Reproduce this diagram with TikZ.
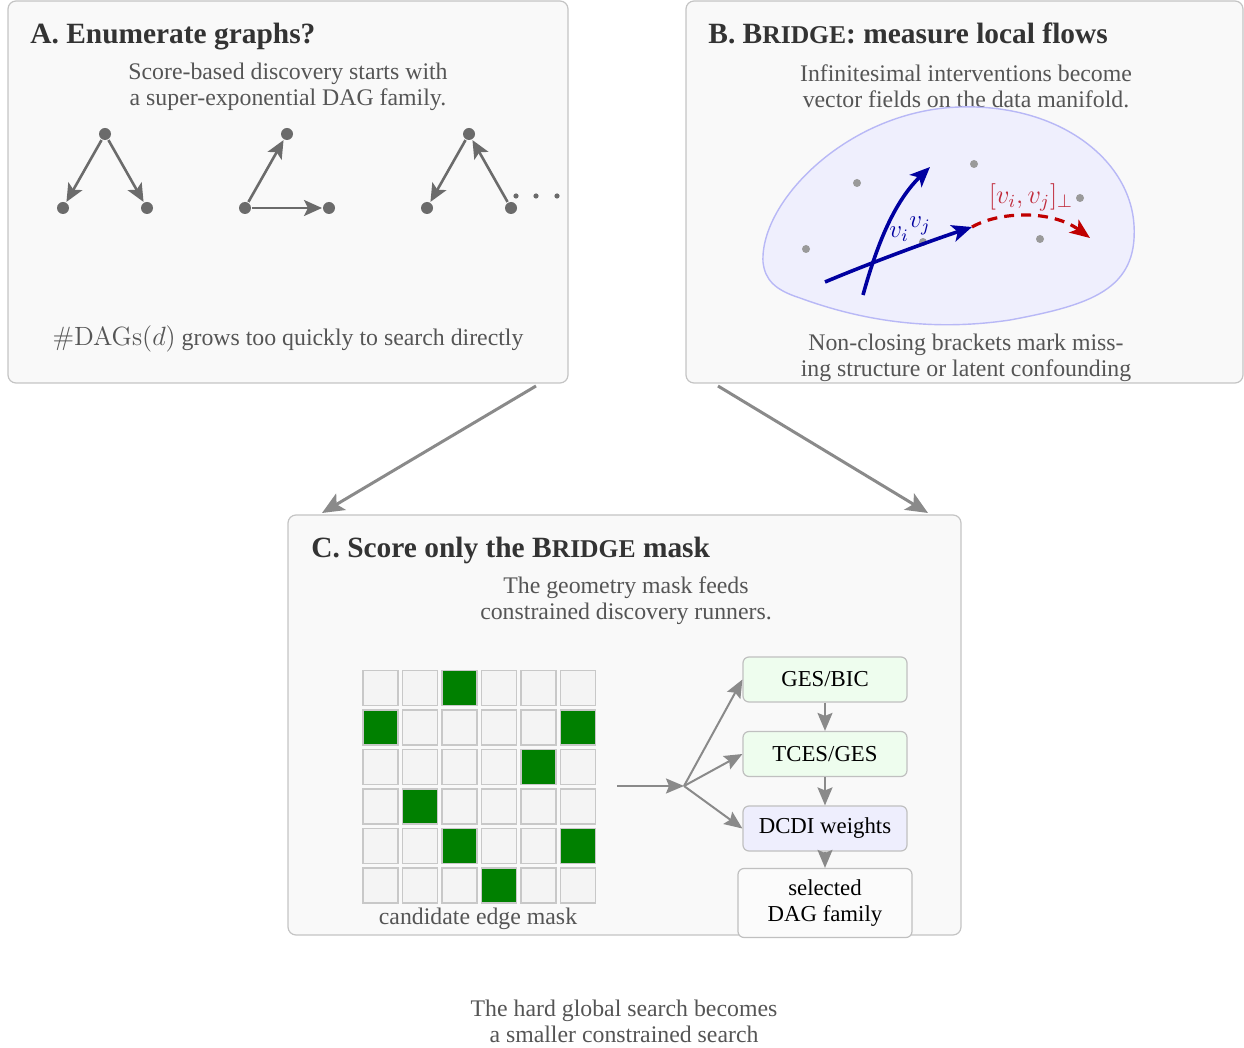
\RequirePackage{fix-cm}
\documentclass[tikz,border=0pt]{standalone}
\usepackage[no-math]{fontspec}
\setmainfont{Liberation Serif}
\usetikzlibrary{arrows.meta}
\definecolor{panelfill}{HTML}{F9F9F9}
\definecolor{panelline}{HTML}{C4C4C4}
\definecolor{headc}{HTML}{333333}
\definecolor{bodyc}{HTML}{555555}
\definecolor{gnode}{HTML}{6B6B6B}
\definecolor{blobfill}{HTML}{EFEFFD}
\definecolor{blobline}{HTML}{B8B8F6}
\definecolor{vblue}{HTML}{0000A0}
\definecolor{rred}{HTML}{C00000}
\definecolor{rlabel}{HTML}{C02A3A}
\definecolor{pdotc}{HTML}{9A9A9A}
\definecolor{cgray}{HTML}{8A8A8A}
\definecolor{cellfill}{HTML}{F4F4F4}
\definecolor{celldraw}{HTML}{C8C8C8}
\definecolor{maskgreen}{HTML}{008000}
\definecolor{rline}{HTML}{C0C0C0}
\definecolor{gesfill}{HTML}{EEFDEE}
\definecolor{dcdifill}{HTML}{EEEEFD}
\definecolor{selfill}{HTML}{FBFBFB}
\newcommand\bridgesc{B{\fontsize{12.8}{14}\selectfont RIDGE}}
\begin{document}
\begin{tikzpicture}[x=0.5pt,y=-0.5pt,
  panel/.style={draw=panelline, fill=panelfill, line width=0.6pt, rounded corners=4pt},
  head/.style={text=headc, font=\fontsize{14.7}{17}\selectfont\bfseries, inner sep=0pt},
  body/.style={text=bodyc, font=\fontsize{11.9}{13.1}\selectfont, align=center, inner sep=0pt},
  gdot/.style={circle, fill=gnode, minimum size=6pt, inner sep=0pt},
  sdot/.style={circle, fill=gnode, minimum size=2.6pt, inner sep=0pt},
  garrow/.style={draw=gnode, line width=1.3pt, -{Stealth[length=9pt,width=8pt,inset=2pt]}, shorten >=0.3pt, shorten <=0.3pt},
  pdot/.style={circle, fill=pdotc, minimum size=4pt, inner sep=0pt},
  varrow/.style={draw=vblue, line width=1.8pt, -{Stealth[length=10pt,width=8.5pt,inset=2.5pt]}},
  rarrow/.style={draw=rred, line width=1.6pt, dash pattern=on 5pt off 3.5pt, -{Stealth[length=10pt,width=8pt,inset=2.5pt]}},
  bigarrow/.style={draw=cgray, line width=1.5pt, -{Stealth[length=11pt,width=9.5pt,inset=2.5pt]}},
  carrow/.style={draw=cgray, line width=1pt, -{Stealth[length=9pt,width=7.5pt,inset=1.5pt]}},
  cellbox/.style={draw=celldraw, fill=cellfill, line width=0.8pt, minimum size=17.5pt, inner sep=0pt},
  greencell/.style={fill=maskgreen, draw=celldraw},
  runner/.style={draw=rline, line width=0.6pt, rounded corners=3pt, minimum width=82pt, minimum height=22.5pt, font=\fontsize{11.4}{13}\selectfont, align=center, inner sep=0pt}
]
\useasboundingbox (0,0) rectangle (1244,1048);

% ---------- panels ----------
\draw[panel] (8,1) rectangle (568,383);
\draw[panel] (686,1) rectangle (1243,383);
\draw[panel] (288,515) rectangle (961,935);

% ---------- panel A ----------
\node[head, anchor=base west] (hA) at (30,44) {A. Enumerate graphs?};
\node[body] (sA) at (288,86.5) {Score-based discovery starts with\\a super-exponential DAG family.};

\node[gdot] (g1t) at (105,134) {};
\node[gdot] (g1l) at (63,208) {};
\node[gdot] (g1r) at (147,208) {};
\draw[garrow] (g1t) -- (g1l);
\draw[garrow] (g1t) -- (g1r);

\node[gdot] (g2t) at (287,134) {};
\node[gdot] (g2l) at (245,208) {};
\node[gdot] (g2r) at (329,208) {};
\draw[garrow] (g2l) -- (g2t);
\draw[garrow] (g2l) -- (g2r);

\node[gdot] (g3t) at (469,134) {};
\node[gdot] (g3l) at (427,208) {};
\node[gdot] (g3r) at (511,208) {};
\draw[garrow] (g3t) -- (g3l);
\draw[garrow] (g3r) -- (g3t);

\node[sdot] (e1) at (516,196) {};
\node[sdot] (e2) at (536,196) {};
\node[sdot] (e3) at (557,196) {};

\node[body] (fA) at (288,339) {{\fontsize{13.2}{14}\selectfont$\#\mathrm{DAGs}(d)$} grows too quickly to search directly};

% ---------- panel B ----------
\node[head, anchor=base west] (hB) at (708,44) {B. \bridgesc: measure local flows};
\node[body] (sB) at (966,86.5) {Infinitesimal interventions become\\vector fields on the data manifold.};

\draw[fill=blobfill, draw=blobline, line width=0.7pt]
  (763,262) .. controls (760,200) and (850,110) .. (960,107)
  .. controls (1060,104) and (1130,160) .. (1134,225)
  .. controls (1138,290) and (1090,305) .. (1010,320)
  .. controls (930,332) and (860,320) .. (800,298)
  .. controls (775,290) and (765,280) .. (763,262) -- cycle;

\node[pdot] (d1) at (857,183) {};
\node[pdot] (d2) at (974,164) {};
\node[pdot] (d3) at (806,249) {};
\node[pdot] (d4) at (923,242) {};
\node[pdot] (d5) at (1040,239) {};
\node[pdot] (d6) at (1080,198) {};

\coordinate (vis) at (825,282);
\coordinate (vie) at (972,227);
\coordinate (vjs) at (863,295);
\coordinate (vje) at (930,167);
\coordinate (re) at (1090,238);

\draw[varrow] (vis) .. controls (870,263) and (930,241) .. (vie);
\draw[varrow] (vjs) .. controls (876,248) and (893,203) .. (vje);
\draw[rarrow] (vie) .. controls (1000,211) and (1052,210) .. (re);

\node[text=vblue, inner sep=0pt, font=\fontsize{12.5}{14}\selectfont] (lvi) at (899,234) {$v_i$};
\node[text=vblue, inner sep=0pt, font=\fontsize{12.5}{14}\selectfont] (lvj) at (920,226) {$v_j$};
\node[text=rlabel, inner sep=0pt, font=\fontsize{13.2}{15}\selectfont] (lbr) at (1031,197) {$[v_i,v_j]_\perp$};

\node[body] (fB) at (966,358) {Non-closing brackets mark miss-\\ing structure or latent confounding};

% ---------- arrows between panels ----------
\coordinate (aAs) at (536,386);
\coordinate (aAe) at (322,513);
\coordinate (aBs) at (718,386);
\coordinate (aBe) at (928,513);
\draw[bigarrow] (aAs) -- (aAe);
\draw[bigarrow] (aBs) -- (aBe);

% ---------- panel C ----------
\node[head, anchor=base west] (hC) at (311,558) {C. Score only the \bridgesc\ mask};
\node[body] (sC) at (626,601) {The geometry mask feeds\\constrained discovery runners.};

\foreach \r in {0,...,5}{
  \foreach \c in {0,...,5}{
    \node[cellbox] (cell-\r-\c) at ({380.5+39.5*\c},{688+39.5*\r}) {};
  }
}
\foreach \r/\c in {0/2,1/0,1/5,2/4,3/1,4/2,4/5,5/3}{
  \node[cellbox, greencell] (g-\r-\c) at ({380.5+39.5*\c},{688+39.5*\r}) {};
}
\node[body] (mlab) at (478,919) {candidate edge mask};

\coordinate (ms) at (617,786);
\coordinate (hub) at (684,786);
\draw[carrow] (ms) -- (hub);

\node[runner, fill=gesfill] (ges) at (825,679.5) {GES/BIC};
\node[runner, fill=gesfill] (tces) at (825,754) {TCES/GES};
\node[runner, fill=dcdifill] (dcdi) at (825,828.5) {DCDI weights};
\node[runner, fill=selfill, minimum width=87pt, minimum height=34.5pt] (sel) at (825,903) {selected\\DAG family};

\draw[carrow] (hub) -- (ges.west);
\draw[carrow] (hub) -- (tces.west);
\draw[carrow] (hub) -- (dcdi.west);
\draw[carrow] (ges) -- (tces);
\draw[carrow] (tces) -- (dcdi);
\draw[carrow] (dcdi) -- (sel);

% ---------- bottom ----------
\node[body] (bot) at (624,1021) {The hard global search becomes\\a smaller constrained search};
\end{tikzpicture}
\end{document}
